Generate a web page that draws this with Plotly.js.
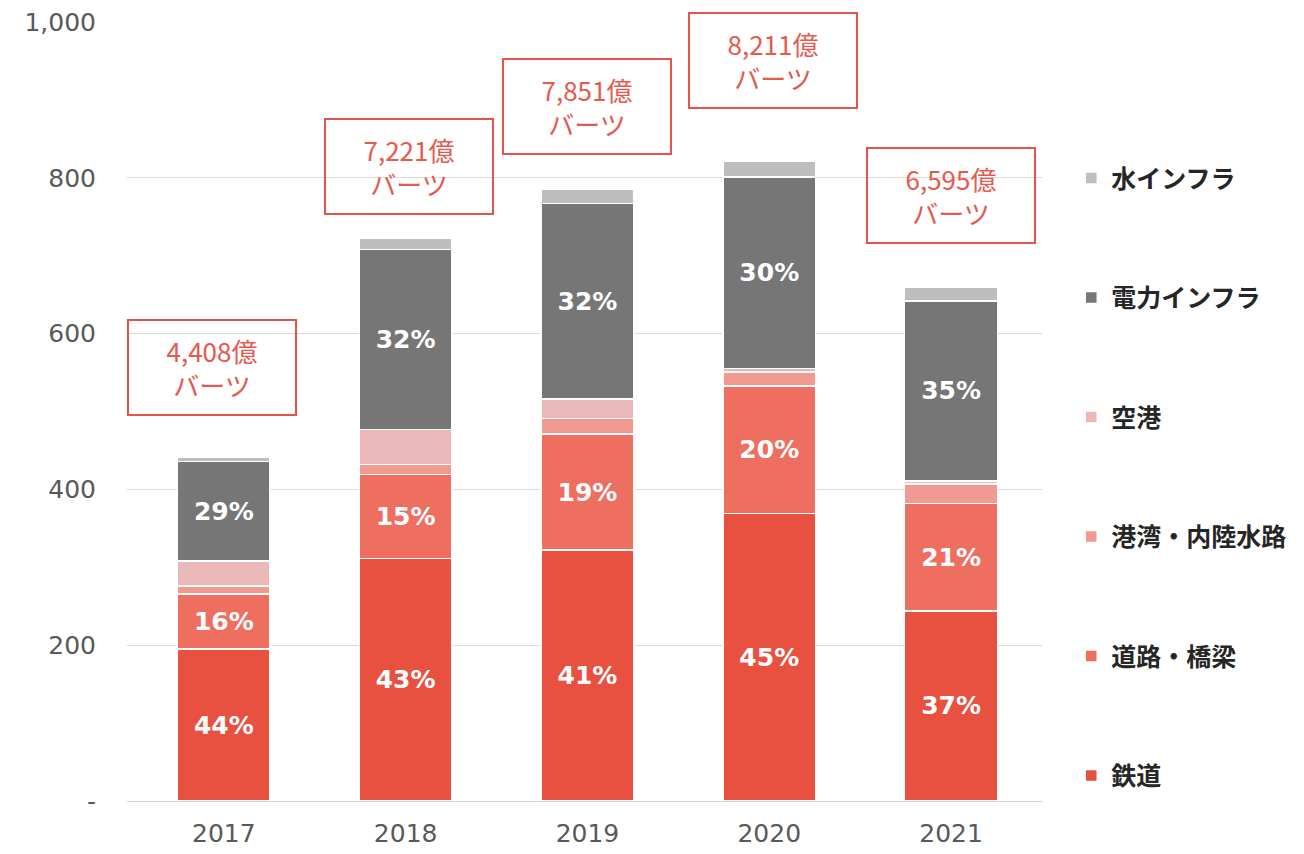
<!DOCTYPE html>
<html>
<head>
<meta charset="utf-8">
<script src="https://cdn.plot.ly/plotly-3.0.1.min.js"></script>
<style>html,body{margin:0;padding:0;background:#fff;}#chart{width:1304px;height:854px;}</style>
</head>
<body>
<div id="chart"></div>
<script>
const years = ['2017', '2018', '2019', '2020', '2021'];
const seriesNames = ['鉄道', '道路・橋梁', '港湾・内陸水路', '空港', '電力インフラ', '水インフラ'];
const railway = [195, 311, 322, 369, 244];
const roads = [71, 108, 149, 164, 138];
const ports = [10, 13, 20, 18, 25];
const airports = [32, 45, 25, 4, 4];
const power = [128, 231, 251, 246, 231];
const water = [5, 14, 18, 20, 17];
const railwayLabels = ['44%', '43%', '41%', '45%', '37%'];
const roadsLabels = ['16%', '15%', '19%', '20%', '21%'];
const powerLabels = ['29%', '32%', '32%', '30%', '35%'];
const totalLabels = ['4,408億<br>バーツ', '7,221億<br>バーツ', '7,851億<br>バーツ', '8,211億<br>バーツ', '6,595億<br>バーツ'];
const yTickVals = [0, 200, 400, 600, 800, 1000];
const yTickText = ['-', '200', '400', '600', '800', '1,000'];

const colors = ['#E8503F', '#EE6E60', '#F29A92', '#EAB8B8', '#767676', '#BEBEBE'];
const values = [railway, roads, ports, airports, power, water];
const labels = [railwayLabels, roadsLabels, null, null, powerLabels, null];

const traces = values.map((v, i) => ({
  type: 'bar',
  name: seriesNames[i],
  x: years,
  y: v,
  legendgroup: 'g' + i,
  legendrank: 100 - i * 10,
  marker: {color: colors[i], line: {color: '#ffffff', width: 1.5}},
  text: labels[i] ? labels[i] : years.map(() => ''),
  textposition: labels[i] ? 'inside' : 'none',
  insidetextanchor: 'middle',
  textangle: 0,
  textfont: {family: 'DejaVu Sans, Arial, sans-serif', size: 25, color: '#ffffff', weight: 'bold'},
  hoverinfo: 'x+y+name'
}));

// annotation box positions (category index offset, y in data units)
const boxX = [-0.065, 1.02, 2.0, 3.02, 4.0];
const boxY = [557, 815, 892, 950, 777];
const annotations = totalLabels.map((t, i) => ({
  x: boxX[i], y: boxY[i], xref: 'x', yref: 'y',
  text: t, showarrow: false,
  font: {family: 'Noto Sans CJK JP, sans-serif', size: 26, color: '#E5594E'},
  bordercolor: '#E5534B', borderwidth: 2, borderpad: 0,
  width: 166, height: 93, bgcolor: 'rgba(255,255,255,0)'
}));

const layout = {
  width: 1304, height: 854,
  margin: {l: 127, r: 254, t: 22, b: 53},
  paper_bgcolor: '#ffffff', plot_bgcolor: '#ffffff',
  barmode: 'stack',
  bargap: 0.49,
  showlegend: true,
  legend: {
    x: 1.032, xanchor: 'left', y: 0.829, yanchor: 'top',
    traceorder: 'grouped', tracegroupgap: 84,
    font: {family: 'Noto Sans CJK JP, sans-serif', size: 25, color: '#262626', weight: 'bold'},
    itemwidth: 30
  },
  xaxis: {
    type: 'category',
    tickfont: {family: 'DejaVu Sans, Arial, sans-serif', size: 25, color: '#595959'},
    ticklabelstandoff: 15,
    showgrid: false, showline: false, ticks: ''
  },
  yaxis: {
    range: [0, 1000],
    tickvals: yTickVals, ticktext: yTickText,
    tickfont: {family: 'DejaVu Sans, Arial, sans-serif', size: 25, color: '#595959'},
    ticklabelstandoff: 30,
    showgrid: true, gridcolor: '#DCDCDC', gridwidth: 1,
    zeroline: true, zerolinecolor: '#D0D0D0', zerolinewidth: 1,
    ticks: '', showline: false, fixedrange: true
  },
  annotations: annotations
};

Plotly.newPlot('chart', traces, layout, {displayModeBar: false, staticPlot: true});
</script>
</body>
</html>
